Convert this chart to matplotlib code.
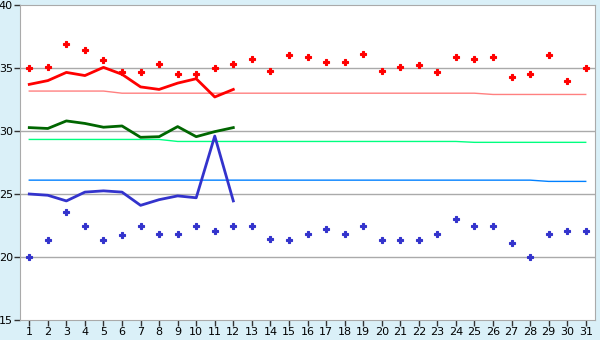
import matplotlib
matplotlib.use("Agg")
import matplotlib.pyplot as plt

days = list(range(1, 32))

# upper scatter (red) and lower scatter (blue)
red_pts = [35.0, 35.1, 36.9, 36.4, 35.6, 34.7, 34.7, 35.3, 34.5, 34.5,
           35.0, 35.3, 35.7, 34.8, 36.0, 35.85, 35.45, 35.45, 36.1, 34.8,
           35.1, 35.2, 34.7, 35.9, 35.7, 35.9, 34.3, 34.5, 36.0, 34.0, 35.0]
blue_pts = [20.0, 21.35, 23.55, 22.45, 21.35, 21.75, 22.45, 21.8, 21.8, 22.45,
            22.05, 22.45, 22.45, 21.45, 21.35, 21.8, 22.2, 21.8, 22.45, 21.35,
            21.35, 21.35, 21.8, 23.0, 22.45, 22.45, 21.1, 20.0, 21.8, 22.05, 22.05]

# thick lines, first 12 days
line_days = days[:12]
red_line = [33.7, 34.0, 34.65, 34.4, 35.05, 34.5, 33.5, 33.3, 33.8, 34.15, 32.7, 33.3]
green_line = [30.27, 30.2, 30.8, 30.6, 30.3, 30.4, 29.5, 29.55, 30.35, 29.55, 29.95, 30.27]
blue_line = [25.0, 24.9, 24.45, 25.15, 25.25, 25.15, 24.1, 24.55, 24.85, 24.7, 29.6, 24.45]

# thin reference lines, all days
red_ref = [33.17] * 5 + [33.0] * 20 + [32.9] * 6
green_ref = [29.33] * 8 + [29.17] * 16 + [29.1] * 7
blue_ref = [26.1] * 28 + [26.0] * 3

bg = "#daf0f8"
fig = plt.figure(figsize=(6, 3.4), dpi=100, facecolor=bg)
ax = fig.add_axes([20 / 600, 20 / 340, 575 / 600, 315 / 340])
ax.set_facecolor("white")

for v in [20, 25, 30, 35]:
    ax.axhline(v, color="#aaaaaa", lw=1, zorder=0)

ax.plot(days, red_ref, color="#ff8080", lw=1)
ax.plot(days, green_ref, color="#00ff80", lw=1)
ax.plot(days, blue_ref, color="#0080ff", lw=1)

ax.plot(line_days, red_line, color="#ff0000", lw=2)
ax.plot(line_days, green_line, color="#006600", lw=2)
ax.plot(line_days, blue_line, color="#3333cc", lw=2)

ax.plot(days, red_pts, ls="none", marker="P", ms=5, color="#ff0000", mew=0.8)
ax.plot(days, blue_pts, ls="none", marker="P", ms=5, color="#3333cc", mew=0.8)

ax.set_xlim(0.5, 31.5)
ax.set_ylim(15, 40)
ax.set_xticks(days)
ax.set_yticks([15, 20, 25, 30, 35, 40])
for s in ax.spines.values():
    s.set_color("#aaaaaa")
ax.tick_params(axis="both", labelcolor="#000000", labelsize=8, length=4, width=1,
               direction="out", pad=1, color="#333333")

fig.savefig("out.png", dpi=100, facecolor=bg)
